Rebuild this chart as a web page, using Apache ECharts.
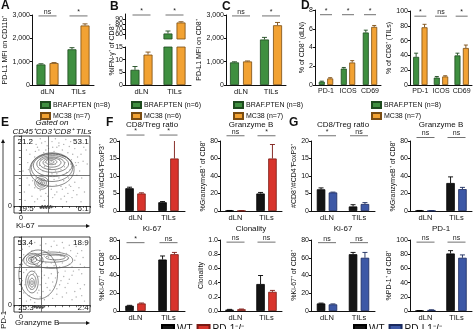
<!DOCTYPE html>
<html><head><meta charset="utf-8">
<script src="https://cdn.jsdelivr.net/npm/echarts/dist/echarts.min.js"></script>
<style>html,body{margin:0;padding:0;background:#fff}#c{width:474px;height:329px}</style>
</head><body><div id="c"></div>
<script>
// ---------- data ----------
const sites = ['dLN', 'TILs'];
const markers = ['PD-1', 'ICOS', 'CD69'];

// A: PD-L1 MFI on CD11b+
const aBraf = [880, 1530], aBrafSem = [30, 70];
const aMc38 = [940, 2550], aMc38Sem = [20, 70];
const aSig = ['ns', '*'];
// B: %IFN-g+ of CD8+
const bBraf = [6, 61], bBrafSem = [1.3, 5];
const bMc38 = [12, 83], bMc38Sem = [1, 1.5];
const bSig = ['*', '*'];
// C: PD-L1 MFI on CD8+
const cBraf = [970, 1950], cBrafSem = [25, 90];
const cMc38 = [1010, 2560], cMc38Sem = [20, 120];
const cSig = ['ns', '*'];
// D: % of CD8+ in dLN and TILs
const dLnBraf = [0.35, 1.75, 5.6], dLnBrafSem = [0.06, 0.12, 0.25];
const dLnMc38 = [0.7, 2.4, 6.2], dLnMc38Sem = [0.08, 0.2, 0.15];
const dLnSig = ['*', '*', '*'];
const dTilBraf = [38, 10, 40], dTilBrafSem = [5, 1.5, 3];
const dTilMc38 = [78, 11.5, 50], dTilMc38Sem = [4, 1, 4];
const dTilSig = ['*', 'ns', '*'];

// F: WT vs PD-1-/-
const fRatioWt = [6.5, 2.5], fRatioWtSem = [0.3, 0.2];
const fRatioKo = [5.0, 15], fRatioKoSem = [0.2, 5.5];
const fRatioSig = ['*', '*'];
const fGzbWt = [0.5, 20], fGzbWtSem = [0.1, 1.2];
const fGzbKo = [0.3, 60], fGzbKoSem = [0.1, 16];
const fGzbSig = ['ns', '*'];
const fKiWt = [6, 58], fKiWtSem = [0.4, 4];
const fKiKo = [8.5, 64], fKiKoSem = [0.5, 2];
const fKiSig = ['*', 'ns'];
const fCloWt = [0.02, 0.38], fCloWtSem = [0.003, 0.12];
const fCloKo = [0.025, 0.27], fCloKoSem = [0.003, 0.02];
const fCloSig = ['ns', 'ns'];

// G: WT vs PD-L1-/-
const gRatioWt = [6.2, 1.3], gRatioWtSem = [0.4, 0.5];
const gRatioKo = [5.3, 2.0], gRatioKoSem = [0.1, 0.4];
const gRatioSig = ['*', 'ns'];
const gGzbWt = [0.5, 32], gGzbWtSem = [0.1, 7];
const gGzbKo = [0.3, 25], gGzbKoSem = [0.1, 2];
const gGzbSig = ['ns', 'ns'];
const gKiWt = [8.5, 64], gKiWtSem = [0.4, 2];
const gKiKo = [7.5, 60], gKiKoSem = [0.5, 6];
const gKiSig = ['ns', 'ns'];
const gPdWt = [0.5, 81], gPdWtSem = [0.1, 4];
const gPdKo = [1.5, 75], gPdKoSem = [0.2, 4];
const gPdSig = ['ns', 'ns'];

// E: flow plots (gated CD45+CD3+CD8+ TILs), axis units -10..100
const kiQuad = ['21.2', '53.1', '19.5', '6.1'];
const gzQuad = ['53.4', '18.9', '25.3', '2.4'];
const kiGate = [40, 44];   // [x, y] quadrant gate
const gzGate = [30, 55];
const kiDots = [[22,88],[30,90],[38,86],[45,92],[55,90],[62,88],[70,85],[78,82],[26,80],[33,76],[40,82],[52,84],[60,80],[68,76],[75,74],[82,70],[20,70],[28,66],[35,62],[44,64],[56,66],[64,62],[72,60],[80,58],[18,58],[25,52],[32,50],[42,54],[50,50],[58,52],[66,48],[74,44],[85,50],[15,45],[22,40],[30,34],[40,32],[48,38],[55,40],[62,36],[70,30],[78,34],[12,30],[20,26],[28,22],[36,18],[44,24],[52,20],[60,24],[68,18],[76,22],[84,26],[16,14],[24,10],[34,8],[46,12],[58,10],[66,6],[74,12],[88,40],[90,64],[10,62],[8,80],[14,92],[86,90],[50,60],[45,46],[38,44],[60,70],[42,74],[5,20],[3,50],[92,20],[94,80],[50,96],[28,96],[65,95],
  [24,84],[36,80],[48,78],[58,74],[66,70],[73,66],[79,62],[19,64],[27,58],[34,56],[52,46],[61,44],[69,40],[81,44],[17,36],[25,30],[34,28],[43,28],[51,30],[58,28],[65,26],[72,28],[9,40],[11,52],[13,74],[21,78],[31,70],[39,66],[53,70],[63,56],[71,52],[77,56],[83,62],[87,74],[91,84],[96,60],[29,14],[39,14],[49,16],[63,14],[81,16],[87,6],[20,6],[6,8],[55,86],[46,84],[35,92],[72,92],[80,92]];
const kiFloor = [[28,-2],[30,-1],[32,-2],[34,-1],[36,-2],[38,-1],[40,-2],[42,-1],[44,-2],[35,0],[39,0],[33,-3],[41,-3],[46,-1],[31,0],[37,-3],[43,0],[29,-3]];
const kiContours = [[45,52,32,24],[45,55,30,20],[46,58,28,16],[46,60,23,12],[45,61,18,9],[45,62,13,6.5],[44,63,8,4],[44,63,4,2],[30,33,10,9],[30,33,7,6],[30,33,4.5,3.5],[30,33,2,1.6]];
const gzDots = [[5,90],[12,86],[20,92],[28,88],[36,90],[44,86],[52,88],[62,84],[72,80],[82,76],[90,70],[4,74],[8,62],[30,78],[40,80],[56,78],[66,76],[78,66],[86,60],[70,60],[60,62],[48,58],[38,56],[30,50],[4,48],[10,44],[26,42],[34,44],[44,46],[54,48],[64,50],[76,50],[88,46],[6,30],[28,30],[36,32],[46,34],[58,36],[70,38],[82,32],[4,18],[12,14],[24,18],[32,20],[42,22],[52,24],[64,26],[78,20],[8,6],[20,4],[34,8],[46,10],[60,12],[74,8],[88,14],[16,56],[24,60],[50,66],[94,88],[92,30],[2,36],[14,24],[40,70],[48,94],
  [2,82],[16,80],[24,74],[34,72],[42,76],[58,72],[68,68],[80,72],[88,80],[12,70],[2,60],[20,50],[36,62],[44,62],[56,56],[74,56],[84,52],[92,56],[8,52],[18,46],[30,40],[40,40],[50,40],[62,42],[74,44],[2,26],[10,34],[20,28],[26,22],[38,26],[48,28],[56,30],[68,32],[86,24],[14,8],[28,12],[40,14],[52,16],[66,18],[80,12],[92,6],[60,92],[70,88],[80,86],[90,92]];
const gzFloor = [[20,-3],[22,-2],[24,-3],[26,-2],[28,-3],[30,-2],[32,-3],[25,-1],[29,-1],[23,-4],[27,-4],[34,-2],[21,-1],[31,-4],[18,-2]];
const gzContours = [[25,45,28,36],[45,66,30,12],[18,66,14,10],[18,67,10,7],[17,67,6,4],[16,68,3,2],[45,69,24,6],[50,70,14,3.5],[16,34,9,16],[16,34,6,11],[16,33,3.5,6.5],[16,33,1.6,3]];

// ---------- style ----------
const FONT = '"Liberation Sans", Arial, Helvetica, sans-serif';
const INK = '#111';
const GREEN = ['#3f8f40', '#1d4a1e'], ORANGE = ['#f2a233', '#7a4c12'];
const BLACK = ['#141414', '#000'], RED = ['#d8342c', '#7a1a14'], BLUE = ['#3d58a6', '#1a2a5e'];

const grids = [], xAxes = [], yAxes = [], series = [], legends = [], graphics = [];

function errRender(offset, color, cap) {
  return function (params, api) {
    const i = api.value(0), m = api.value(1), s = api.value(2);
    const p0 = api.coord([i, m]), p1 = api.coord([i, m + s]);
    const x = p0[0] + offset;
    return {type: 'group', children: [
      {type: 'line', shape: {x1: x, y1: p0[1], x2: x, y2: p1[1]}, style: {stroke: color, lineWidth: 0.9}},
      {type: 'line', shape: {x1: x - cap, y1: p1[1], x2: x + cap, y2: p1[1]}, style: {stroke: color, lineWidth: 0.9}}
    ]};
  };
}
function sigRender(texts, halfW) {
  return function (params, api) {
    const c = api.coord([api.value(0), api.value(1)]);
    return {type: 'group', children: [
      {type: 'line', shape: {x1: c[0] - halfW, y1: c[1], x2: c[0] + halfW, y2: c[1]}, style: {stroke: '#333', lineWidth: 0.7}},
      {type: 'text', x: c[0], y: c[1] - 0.5, style: {text: texts[params.dataIndex], align: 'center', verticalAlign: 'bottom',
        textAlign: 'center', textVerticalAlign: 'bottom', font: '7px ' + FONT, fill: '#222'}}
    ]};
  };
}

function addBarPanel(p) {
  const gi = grids.length;
  grids.push({left: p.left, top: p.top, width: p.width, height: p.height});
  xAxes.push({gridIndex: gi, type: 'category', data: p.cats, show: p.showX !== false,
    axisLine: {lineStyle: {color: INK, width: 1}}, axisTick: {show: false},
    axisLabel: {fontSize: p.catSize || 7.5, color: INK, margin: 3, fontFamily: FONT, interval: 0, hideOverlap: false}});
  yAxes.push({gridIndex: gi, type: 'value', min: p.min, max: p.max, interval: p.interval,
    axisLine: {show: true, lineStyle: {color: INK, width: 1}},
    axisTick: {show: true, length: 2, lineStyle: {color: INK}},
    splitLine: {show: false},
    axisLabel: {fontSize: 7, color: INK, margin: 2, fontFamily: FONT, formatter: p.fmt},
    name: p.yName || '', nameLocation: 'middle', nameGap: p.nameGap || 12,
    nameTextStyle: {fontSize: 7, color: INK, fontFamily: FONT}});
  const n = p.groups.length;
  const step = p.bw * (1 + p.gap);
  p.groups.forEach(function (g) {
    series.push({type: 'bar', name: g.name, xAxisIndex: gi, yAxisIndex: gi, data: g.vals,
      barWidth: p.bw, barGap: Math.round(p.gap * 100) + '%', clip: true, silent: true, animation: false,
      itemStyle: {color: g.color[0], borderColor: g.color[1], borderWidth: 0.8}});
  });
  p.groups.forEach(function (g, k) {
    const off = (k - (n - 1) / 2) * step;
    series.push({type: 'custom', xAxisIndex: gi, yAxisIndex: gi, clip: true, silent: true, animation: false,
      data: g.vals.map(function (v, i) { return [i, v, g.sem[i]]; }),
      renderItem: errRender(off, g.color[1], p.cap || 2.5)});
  });
  if (p.sig) {
    series.push({type: 'custom', xAxisIndex: gi, yAxisIndex: gi, clip: false, silent: true, animation: false,
      data: p.sig.map(function (t, i) { return [i, p.sigY]; }),
      renderItem: sigRender(p.sig, p.sigHalf || 9)});
  }
  if (p.title) {
    graphics.push({type: 'text', x: p.left + p.width / 2, y: p.titleY,
      style: {text: p.title, align: 'center', verticalAlign: 'middle', font: '8px ' + FONT, fill: INK}});
  }
  return gi;
}

function pair(n1, v1, s1, c1, n2, v2, s2, c2) {
  return [{name: n1, vals: v1, sem: s1, color: c1}, {name: n2, vals: v2, sem: s2, color: c2}];
}

// ---- top row ----
const B8 = 'BRAF.PTEN (n=8)', M7 = 'MC38 (n=7)', B6 = 'BRAF.PTEN (n=6)', M6 = 'MC38 (n=6)';
addBarPanel({left: 32, top: 15, width: 62, height: 70, cats: sites, min: 0, max: 3000, interval: 1000,
  yName: 'PD-L1 MFI on CD11b⁺', nameGap: 19, bw: 9, gap: 0.45,
  groups: pair(B8, aBraf, aBrafSem, GREEN, M7, aMc38, aMc38Sem, ORANGE), sig: aSig, sigY: 2960});
// B: broken value axis (0-15 below, 50-100 above)
addBarPanel({left: 125, top: 47, width: 66, height: 38, cats: sites, min: 0, max: 15, interval: 5,
  bw: 9, gap: 0.45, groups: pair(B6, bBraf, bBrafSem, GREEN, M6, bMc38, bMc38Sem, ORANGE)});
addBarPanel({left: 125, top: 14, width: 66, height: 25, cats: sites, showX: false, min: 50, max: 100, interval: 10,
  bw: 9, gap: 0.45, groups: pair(B6, bBraf, bBrafSem, GREEN, M6, bMc38, bMc38Sem, ORANGE), sig: bSig, sigY: 98});
addBarPanel({left: 226, top: 15, width: 60, height: 70, cats: sites, min: 0, max: 3000, interval: 1000,
  yName: 'PD-L1 MFI on CD8⁺', nameGap: 19, bw: 9, gap: 0.45,
  groups: pair(B8, cBraf, cBrafSem, GREEN, M7, cMc38, cMc38Sem, ORANGE), sig: cSig, sigY: 2960});
addBarPanel({left: 315, top: 10, width: 66, height: 75, cats: markers, min: 0, max: 8, interval: 2, catSize: 7,
  yName: '% of CD8⁺ (dLN)', nameGap: 8, bw: 6, gap: 0.4, cap: 2, sigHalf: 6,
  groups: pair(B8, dLnBraf, dLnBrafSem, GREEN, M7, dLnMc38, dLnMc38Sem, ORANGE), sig: dLnSig, sigY: 7.5});
addBarPanel({left: 410, top: 11, width: 62, height: 74, cats: markers, min: 0, max: 100, interval: 20, catSize: 7,
  yName: '% of CD8⁺ (TILs)', nameGap: 13, bw: 6, gap: 0.4, cap: 2, sigHalf: 6,
  groups: pair(B8, dTilBraf, dTilBrafSem, GREEN, M7, dTilMc38, dTilMc38Sem, ORANGE), sig: dTilSig, sigY: 93});

// ---- E: flow plots ----
function ellipseRender(params, api) {
  const cx = api.value(0), cy = api.value(1), rx = api.value(2), ry = api.value(3);
  const pts = [];
  for (let t = 0; t < 40; t++) {
    const a = t / 40 * Math.PI * 2;
    pts.push(api.coord([cx + rx * Math.cos(a), cy + ry * Math.sin(a)]));
  }
  return {type: 'polygon', shape: {points: pts}, style: {fill: 'none', stroke: '#3a3a3a', lineWidth: 0.6}};
}
function quadRender(texts) {
  const aligns = ['left', 'right', 'left', 'right'];
  return function (params, api) {
    const c = api.coord([api.value(0), api.value(1)]);
    return {type: 'text', x: c[0], y: c[1], style: {text: texts[params.dataIndex], align: aligns[params.dataIndex],
      verticalAlign: 'middle', textAlign: aligns[params.dataIndex], textVerticalAlign: 'middle', font: '8px ' + FONT, fill: INK}};
  };
}
function addFlowPanel(p) {
  const gi = grids.length;
  grids.push({left: p.left, top: p.top, width: p.width, height: p.height, show: true, borderColor: INK, borderWidth: 0.8});
  const ax = {gridIndex: gi, type: 'value', min: -10, max: 100, interval: 10,
    axisLine: {show: true, lineStyle: {color: INK, width: 0.8}}, axisTick: {show: true, length: 2, lineStyle: {color: INK, width: 0.6}},
    splitLine: {show: false},
    axisLabel: {fontSize: 7, color: INK, margin: 2, fontFamily: FONT, formatter: function (v) { return v === 0 ? '0' : ''; }}};
  xAxes.push(Object.assign({}, ax));
  yAxes.push(Object.assign({}, ax));
  series.push({type: 'scatter', xAxisIndex: gi, yAxisIndex: gi, data: p.dots, symbolSize: 1.4, silent: true, animation: false,
    itemStyle: {color: '#9a9a9a'},
    markLine: {silent: true, symbol: 'none', label: {show: false}, animation: false,
      lineStyle: {color: '#555', width: 0.8, type: 'solid'},
      data: [{xAxis: p.gate[0]}, {yAxis: p.gate[1]}]}});
  series.push({type: 'scatter', xAxisIndex: gi, yAxisIndex: gi, data: p.floor, symbolSize: 1.8, silent: true, animation: false,
    itemStyle: {color: '#333'}});
  series.push({type: 'custom', xAxisIndex: gi, yAxisIndex: gi, data: p.contours, renderItem: ellipseRender, silent: true, animation: false, clip: true});
  series.push({type: 'custom', xAxisIndex: gi, yAxisIndex: gi, data: [[-5, 92], [98, 92], [-4, -4], [98, -4]],
    renderItem: quadRender(p.quad), silent: true, animation: false});
}
addFlowPanel({left: 14, top: 136, width: 76, height: 77, dots: kiDots, floor: kiFloor, contours: kiContours, quad: kiQuad, gate: kiGate});
addFlowPanel({left: 14, top: 237, width: 76, height: 75, dots: gzDots, floor: gzFloor, contours: gzContours, quad: gzQuad, gate: gzGate});

// ---- F and G ----
const WT = 'WT', PD1KO = 'PD-1⁻/⁻', PDL1KO = 'PD-L1⁻/⁻';
const ratioName = '#CD8⁺/#CD4⁺FoxP3⁺', gzbName = '%GranzymeB⁺ of CD8⁺', kiName = '%Ki-67⁺ of CD8⁺';
addBarPanel({left: 119, top: 141, width: 66, height: 70, cats: sites, min: 0, max: 20, interval: 5,
  yName: ratioName, nameGap: 12, bw: 8.5, gap: 0.4, title: 'CD8/Treg ratio', titleY: 125,
  groups: pair(WT, fRatioWt, fRatioWtSem, BLACK, PD1KO, fRatioKo, fRatioKoSem, RED), sig: fRatioSig, sigY: 21.7});
addBarPanel({left: 220, top: 141, width: 62, height: 70, cats: sites, min: 0, max: 80, interval: 20,
  yName: gzbName, nameGap: 12, bw: 8.5, gap: 0.4, title: 'Granzyme B', titleY: 125,
  groups: pair(WT, fGzbWt, fGzbWtSem, BLACK, PD1KO, fGzbKo, fGzbKoSem, RED), sig: fGzbSig, sigY: 86});
addBarPanel({left: 119, top: 240, width: 66, height: 71, cats: sites, min: 0, max: 80, interval: 20,
  yName: kiName, nameGap: 12, bw: 8.5, gap: 0.4, title: 'Ki-67', titleY: 229,
  groups: pair(WT, fKiWt, fKiWtSem, BLACK, PD1KO, fKiKo, fKiKoSem, RED), sig: fKiSig, sigY: 77});
addBarPanel({left: 220, top: 240, width: 62, height: 71, cats: sites, min: 0, max: 1, interval: 0.2,
  fmt: function (v) { return v.toFixed(1); },
  yName: 'Clonality', nameGap: 15, bw: 8.5, gap: 0.4, title: 'Clonality', titleY: 229,
  groups: pair(WT, fCloWt, fCloWtSem, BLACK, PD1KO, fCloKo, fCloKoSem, RED), sig: fCloSig, sigY: 0.97});

addBarPanel({left: 311, top: 141, width: 64, height: 70, cats: sites, min: 0, max: 20, interval: 5,
  yName: ratioName, nameGap: 12, bw: 8.5, gap: 0.4, title: 'CD8/Treg ratio', titleY: 125,
  groups: pair(WT, gRatioWt, gRatioWtSem, BLACK, PDL1KO, gRatioKo, gRatioKoSem, BLUE), sig: gRatioSig, sigY: 21.5});
addBarPanel({left: 410, top: 141, width: 62, height: 70, cats: sites, min: 0, max: 80, interval: 20,
  yName: gzbName, nameGap: 12, bw: 8.5, gap: 0.4, title: 'Granzyme B', titleY: 125,
  groups: pair(WT, gGzbWt, gGzbWtSem, BLACK, PDL1KO, gGzbKo, gGzbKoSem, BLUE), sig: gGzbSig, sigY: 84});
addBarPanel({left: 311, top: 240, width: 64, height: 71, cats: sites, min: 0, max: 80, interval: 20,
  yName: kiName, nameGap: 12, bw: 8.5, gap: 0.4, title: 'Ki-67', titleY: 229,
  groups: pair(WT, gKiWt, gKiWtSem, BLACK, PDL1KO, gKiKo, gKiKoSem, BLUE), sig: gKiSig, sigY: 77});
addBarPanel({left: 410, top: 240, width: 62, height: 71, cats: sites, min: 0, max: 100, interval: 20,
  yName: '%PD-1⁺ of CD8⁺', nameGap: 15, bw: 8.5, gap: 0.4, title: 'PD-1', titleY: 229,
  groups: pair(WT, gPdWt, gPdWtSem, BLACK, PDL1KO, gPdKo, gPdKoSem, BLUE), sig: gPdSig, sigY: 97});

// ---- legends ----
function smallLegend(left, names) {
  return {left: left, top: 96, orient: 'vertical', itemWidth: 9, itemHeight: 6, itemGap: 3, icon: 'rect',
    selectedMode: false, data: names, textStyle: {fontSize: 7, color: INK, fontFamily: FONT, padding: [0, 0, 0, -2]}};
}
legends.push(smallLegend(35, [B8, M7]));
legends.push(smallLegend(126, [B6, M6]));
legends.push(smallLegend(228, [B8, M7]));
legends.push(smallLegend(366, [B8, M7]));
function bigLegend(left, names) {
  return {left: left, top: 319, orient: 'horizontal', itemWidth: 12, itemHeight: 8, itemGap: 4, icon: 'rect',
    selectedMode: false, data: names, textStyle: {fontSize: 10, color: INK, fontFamily: FONT, padding: [0, 0, 0, -2]}};
}
legends.push(bigLegend(156, [WT, PD1KO]));
legends.push(bigLegend(348, [WT, PDL1KO]));

// ---- annotations ----
function letter(t, x, y) {
  graphics.push({type: 'text', x: x, y: y, style: {text: t, font: 'bold 12px ' + FONT, fill: INK}});
}
letter('A', 1, 0); letter('B', 110, 1); letter('C', 222, 1); letter('D', 301, 0);
letter('E', 1, 117); letter('F', 106, 117); letter('G', 289, 117);
graphics.push({type: 'text', x: 112, y: 50, rotation: Math.PI / 2,
  style: {text: '%IFN-γ⁺ of CD8⁺', align: 'center', verticalAlign: 'middle', font: '7px ' + FONT, fill: INK}});
graphics.push({type: 'text', x: 52, y: 123, style: {text: 'Gated on', align: 'center', verticalAlign: 'middle', font: 'italic 8px ' + FONT, fill: INK}});
graphics.push({type: 'text', x: 52, y: 132, style: {text: 'CD45⁺CD3⁺CD8⁺ TILs', align: 'center', verticalAlign: 'middle', font: 'italic 8px ' + FONT, fill: INK}});
function hArrow(label, x0, x1, y, tx) {
  graphics.push({type: 'text', x: tx, y: y, style: {text: label, align: 'left', verticalAlign: 'middle', font: '8px ' + FONT, fill: INK}});
  graphics.push({type: 'line', shape: {x1: x0, y1: y, x2: x1 - 3, y2: y}, style: {stroke: INK, lineWidth: 0.8}});
  graphics.push({type: 'polygon', shape: {points: [[x1, y], [x1 - 4, y - 2], [x1 - 4, y + 2]]}, style: {fill: INK}});
}
hArrow('Ki-67', 38, 90, 226, 16);
hArrow('Granzyme B', 58, 90, 323, 15);
graphics.push({type: 'line', shape: {x1: 3, y1: 312, x2: 3, y2: 143}, style: {stroke: INK, lineWidth: 0.8}});
graphics.push({type: 'polygon', shape: {points: [[3, 139], [1, 143], [5, 143]]}, style: {fill: INK}});
graphics.push({type: 'text', x: 4, y: 320, rotation: Math.PI / 2,
  style: {text: 'PD-1', align: 'center', verticalAlign: 'middle', font: '8px ' + FONT, fill: INK}});

const chart = echarts.init(document.getElementById('c'), null, {renderer: 'canvas'});
chart.setOption({
  animation: false,
  backgroundColor: '#fff',
  textStyle: {fontFamily: FONT},
  grid: grids, xAxis: xAxes, yAxis: yAxes, legend: legends, series: series, graphic: graphics
});
</script></body></html>
